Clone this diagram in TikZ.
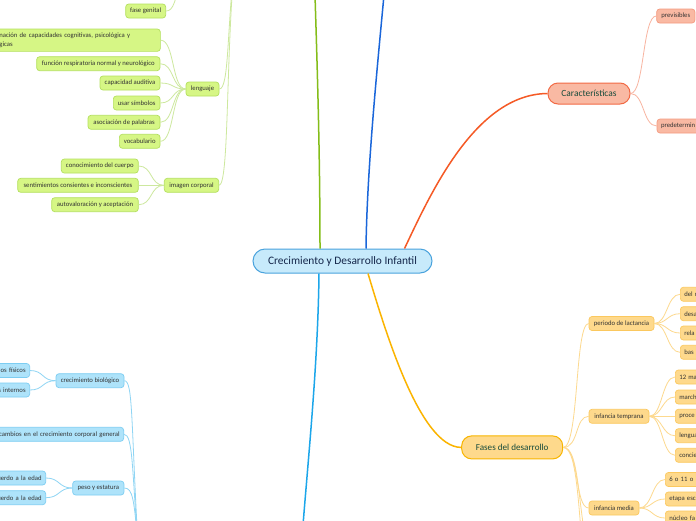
\documentclass[tikz,border=0pt]{standalone}
\usepackage{fontspec}
\setmainfont{Carlito}
\definecolor{gFl}{HTML}{D6F685}
\definecolor{gBd}{HTML}{B4E05E}
\definecolor{gLn}{HTML}{CDE89E}
\definecolor{bFl}{HTML}{AEE3FA}
\definecolor{bBd}{HTML}{7CCDF2}
\definecolor{bLn}{HTML}{8FD5F4}
\definecolor{oFl}{HTML}{FED98C}
\definecolor{oBd}{HTML}{FBC85E}
\definecolor{oLn}{HTML}{FDD98E}
\definecolor{sFl}{HTML}{F9B9A3}
\definecolor{sBd}{HTML}{F49A80}
\definecolor{sLn}{HTML}{F8B4A0}
\definecolor{cFl}{HTML}{C7EAFB}
\definecolor{cBd}{HTML}{4AA3DD}
\definecolor{cTx}{HTML}{14264A}
\definecolor{mTx}{HTML}{174B3B}
\definecolor{lTx}{HTML}{333333}
\definecolor{redM}{HTML}{F55A26}
\definecolor{oraM}{HTML}{FBB400}
\definecolor{grnM}{HTML}{84BD19}
\definecolor{bluM}{HTML}{1A66DA}
\definecolor{lbM}{HTML}{1CA6EA}
\definecolor{carBd}{HTML}{F26A45}
\definecolor{fasBd}{HTML}{F8B500}
\tikzset{
  leaf/.style={rounded corners=3pt, line width=0.7pt, inner xsep=0pt, inner ysep=0pt,
    minimum height=14pt, font=\fontsize{6.7}{8}\selectfont, text=lTx},
  gleaf/.style={leaf, draw=gBd, fill=gFl},
  bleaf/.style={leaf, draw=bBd, fill=bFl},
  oleaf/.style={leaf, draw=oBd, fill=oFl},
  sleaf/.style={leaf, draw=sBd, fill=sFl},
  cutR/.style={anchor=west, text width=60pt, align=left, inner xsep=4pt},
  cutL/.style={anchor=east, align=right, inner xsep=4pt},
  gln/.style={draw=gLn, line width=0.8pt},
  bln/.style={draw=bLn, line width=0.8pt},
  oln/.style={draw=oLn, line width=0.8pt},
  sln/.style={draw=sLn, line width=0.8pt},
  mainln/.style={line width=1.5pt}
}
\begin{document}
\begin{tikzpicture}[x=1pt,y=-1pt]
\useasboundingbox (0,0) rectangle (696,520);
\clip (0,0) rectangle (696,520);
\fill[white] (0,0) rectangle (696,520);

% off-screen coordinates
\coordinate (gmain) at (315,-5);
\coordinate (bmain) at (384,-5);
\coordinate (lbmain) at (303,525);
\coordinate (gpar) at (234,-30);
\coordinate (fgpar) at (182,-25);
\coordinate (blpar) at (138,545);
\coordinate (fx1) at (589,560);
\coordinate (fx2) at (589,620);

% central
\node[draw=cBd, fill=cFl, line width=1pt, rounded corners=12pt, minimum width=179pt, minimum height=24pt,
  inner sep=0pt, text=cTx, font=\fontsize{11.4}{13}\selectfont] (central) at (342.5,261) {Crecimiento y Desarrollo Infantil};

% main branches
\node[draw=carBd, fill=sFl, line width=1pt, rounded corners=10pt, minimum width=82pt, minimum height=21pt,
  inner sep=0pt, text=mTx, font=\fontsize{9.4}{11}\selectfont] (caract) at (589,93.5) {Características};
\node[draw=fasBd, fill=oFl, line width=1pt, rounded corners=10pt, minimum width=101pt, minimum height=23pt,
  inner sep=0pt, text=mTx, font=\fontsize{9.1}{11}\selectfont] (fases) at (512.2,447.4) {Fases del desarrollo};

\draw[mainln, redM] ([xshift=62pt]central.north) .. controls (430,195) and (475,94) .. (caract.west);
\draw[mainln, oraM] ([xshift=25.5pt]central.south) .. controls (385,330) and (420,447.4) .. (fases.west);
\draw[mainln, grnM] ([xshift=-22.5pt]central.north) .. controls (320,150) and (317,60) .. (gmain);
\draw[mainln, bluM] ([xshift=23.5pt]central.north) .. controls (367,170) and (377,70) .. (bmain);
\draw[mainln, lbM] ([xshift=-23.5pt]central.south) .. controls (318,360) and (309,450) .. (lbmain);

% Caracteristicas children
\node[sleaf, minimum width=38.3pt] (prev) at (675.8,16) {previsibles};
\node[sleaf, cutR] (pred) at (656.7,126) {predetermin};
\draw[sln] (caract.east) .. controls +(14,0) and +(-14,0) .. (prev.west);
\draw[sln] (caract.east) .. controls +(14,0) and +(-14,0) .. (pred.west);

% Fases children
\node[oleaf, minimum width=65pt] (lact) at (621.5,323.5) {periodo de lactancia};
\node[oleaf, minimum width=60pt] (temp) at (619,416.3) {infancia temprana};
\node[oleaf, minimum width=50pt] (media) at (614,508) {infancia media};
\draw[oln] (fases.east) .. controls +(16,0) and +(-14,0) .. (lact.west);
\draw[oln] (fases.east) .. controls +(16,0) and +(-14,0) .. (temp.west);
\draw[oln] (fases.east) .. controls +(16,0) and +(-14,0) .. (media.west);
\draw[oln] (fases.east) .. controls +(16,0) and (577,500) .. (fx1);
\draw[oln] (fases.east) .. controls +(16,0) and (578,520) .. (fx2);

\node[oleaf, cutR] (l1) at (680,294.3) {del r};
\node[oleaf, cutR] (l2) at (680,313.7) {desa};
\node[oleaf, cutR] (l3) at (680,333) {rela};
\node[oleaf, cutR] (l4) at (680,352.3) {bas};
\foreach \n in {l1,l2,l3,l4}{\draw[oln] (lact.east) .. controls +(13,0) and +(-13,0) .. (\n.west);}

\node[oleaf, cutR] (t1) at (675,377) {12 ma};
\node[oleaf, cutR] (t2) at (675,397) {march};
\node[oleaf, cutR] (t3) at (675,416.3) {proce};
\node[oleaf, cutR] (t4) at (675,435.7) {lengua};
\node[oleaf, cutR] (t5) at (675,455.3) {concie};
\foreach \n in {t1,t2,t3,t4,t5}{\draw[oln] (temp.east) .. controls +(13,0) and +(-13,0) .. (\n.west);}

\node[oleaf, cutR] (m1) at (665,479.5) {6 o 11 o 1};
\node[oleaf, cutR] (m2) at (665,499) {etapa esc};
\node[oleaf, cutR] (m3) at (665,518) {núcleo fa};
\foreach \n in {m1,m2,m3}{\draw[oln] (media.east) .. controls +(13,0) and +(-13,0) .. (\n.west);}

% left green group
\node[gleaf, minimum width=40pt] (fgen) at (145.7,11) {fase genital};
\node[gleaf, minimum width=33pt] (leng) at (202.5,89) {lenguaje};
\node[gleaf, minimum width=54.4pt] (imag) at (191.5,185.3) {imagen corporal};
\draw[gln] (fgen.east) .. controls (174,11) and (175,0) .. (fgpar);
\draw[gln] (leng.east) .. controls (229,89) and (227,30) .. (gpar);
\draw[gln] (imag.east) .. controls (229,185) and (226,60) .. (gpar);

\node[gleaf, anchor=north west, text width=157pt, align=left, inner xsep=4pt, inner ysep=3pt, minimum height=22.3pt,
  font=\fontsize{6.7}{8.8}\selectfont] (g0) at (-5,28.7) {nación de capacidades cognitivas, psicológica y\\gicas};
\node[gleaf, minimum width=123.3pt] (g1) at (98.3,63.7) {función respiratoria normal y neurológico};
\node[gleaf, minimum width=60pt] (g2) at (130,83) {capacidad auditiva};
\node[gleaf, minimum width=46.7pt] (g3) at (136.7,103) {usar símbolos};
\node[gleaf, minimum width=72pt] (g4) at (124,122.3) {asociación de palabras};
\node[gleaf, minimum width=40.7pt] (g5) at (139.7,141.3) {vocabulario};
\foreach \n in {g0,g1,g2,g3,g4,g5}{\draw[gln] (leng.west) .. controls +(-14,0) and +(14,0) .. (\n.east);}

\node[gleaf, minimum width=77pt] (i1) at (99.8,166) {conocimiento del cuerpo};
\node[gleaf, minimum width=120.6pt] (i2) at (78,185.3) {sentimientos consientes e inconscientes};
\node[gleaf, minimum width=86.6pt] (i3) at (95,204.7) {autovaloración y aceptación};
\foreach \n in {i1,i2,i3}{\draw[gln] (imag.west) .. controls +(-14,0) and +(14,0) .. (\n.east);}

% left blue group
\node[bleaf, minimum width=68pt] (cbio) at (90,380.7) {crecimiento biológico};
\node[bleaf, cutL, text width=60pt] (cb1) at (30,370.5) {os físicos};
\node[bleaf, cutL, text width=60pt] (cb2) at (30,390) {s internos};
\foreach \n in {cb1,cb2}{\draw[bln] (cbio.west) .. controls +(-14,0) and +(14,0) .. (\n.east);}

\node[bleaf, cutL, text width=140pt] (camb) at (124,434.3) {cambios en el crecimiento corporal general};

\node[bleaf, minimum width=51.3pt] (peso) at (98.3,488) {peso y estatura};
\node[bleaf, cutL, text width=70pt] (pe1) at (46,478) {uerdo a la edad};
\node[bleaf, cutL, text width=70pt] (pe2) at (46,497.7) {uerdo a la edad};
\foreach \n in {pe1,pe2}{\draw[bln] (peso.west) .. controls +(-14,0) and +(14,0) .. (\n.east);}

\draw[bln] (cbio.east) .. controls (133,380.7) and (131,420) .. (blpar);
\draw[bln] (camb.east) .. controls (133,434.3) and (132,470) .. (blpar);
\draw[bln] (peso.east) .. controls (133,488) and (134,500) .. (blpar);
\end{tikzpicture}
\end{document}
